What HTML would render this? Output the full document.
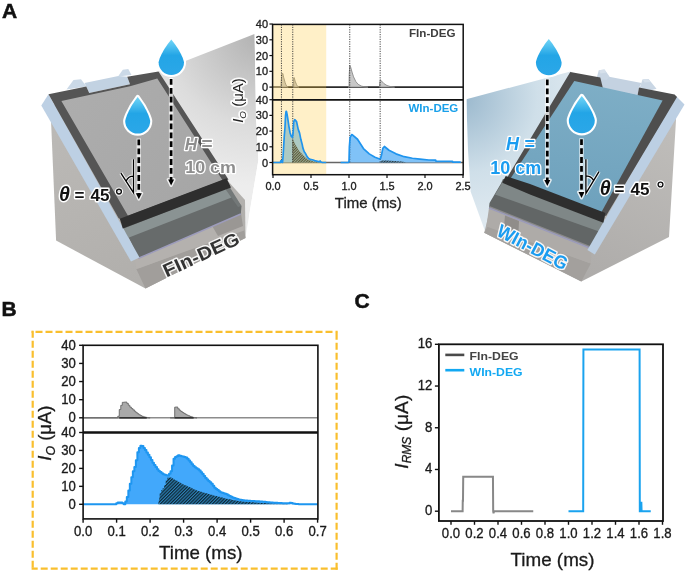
<!DOCTYPE html>
<html><head><meta charset="utf-8"><title>Figure</title>
<style>html,body{margin:0;padding:0;background:#fff;}body{width:685px;height:574px;overflow:hidden;font-family:"Liberation Sans", sans-serif;}svg{display:block;filter:blur(0.3px);}</style>
</head><body>
<svg width="685" height="574" viewBox="0 0 685 574" font-family="'Liberation Sans', sans-serif">

<defs>
<radialGradient id="coneL" gradientUnits="userSpaceOnUse" cx="258" cy="36" r="150">
 <stop offset="0" stop-color="#b2b2b2"/><stop offset="0.6" stop-color="#dcdcdc"/><stop offset="1" stop-color="#ededed"/></radialGradient>
<radialGradient id="coneR" gradientUnits="userSpaceOnUse" cx="462" cy="98" r="125">
 <stop offset="0" stop-color="#9ab8cd"/><stop offset="0.6" stop-color="#cfdfe9"/><stop offset="1" stop-color="#dfe9f0"/></radialGradient>
<linearGradient id="standL" gradientUnits="userSpaceOnUse" x1="50" y1="110" x2="140" y2="280">
 <stop offset="0" stop-color="#bcbab7"/><stop offset="1" stop-color="#b1afac"/></linearGradient>
<linearGradient id="standR" gradientUnits="userSpaceOnUse" x1="675" y1="120" x2="600" y2="280">
 <stop offset="0" stop-color="#c0bebb"/><stop offset="1" stop-color="#aeacaa"/></linearGradient>
<linearGradient id="glassL" gradientUnits="userSpaceOnUse" x1="60" y1="100" x2="200" y2="200">
 <stop offset="0" stop-color="#adadad"/><stop offset="1" stop-color="#a6a6a6"/></linearGradient>
<linearGradient id="glassR" gradientUnits="userSpaceOnUse" x1="575" y1="80" x2="560" y2="200">
 <stop offset="0" stop-color="#7eaec6"/><stop offset="1" stop-color="#6fa2bd"/></linearGradient>
<linearGradient id="dropG" x1="0" y1="0" x2="0" y2="1">
 <stop offset="0" stop-color="#72d6f7"/><stop offset="0.45" stop-color="#23a5e6"/><stop offset="1" stop-color="#2ba7e8"/></linearGradient>
<pattern id="hatchB" patternUnits="userSpaceOnUse" width="2.3" height="2.3" patternTransform="rotate(45)">
 <rect width="2.3" height="2.3" fill="#2b7fb3"/><rect width="1.15" height="2.3" fill="#0f2533"/></pattern>
<pattern id="hatchA" patternUnits="userSpaceOnUse" width="1.9" height="1.9" patternTransform="rotate(45)">
 <rect width="1.9" height="1.9" fill="#3a4a40" fill-opacity="0.35"/><rect width="0.95" height="1.9" fill="#18242a" fill-opacity="0.9"/></pattern>
</defs>

<rect width="685" height="574" fill="#fff"/>
<polygon points="158.5,71.4 254.5,34.0 256.0,110.0 258.4,160.0 245.8,235.2 225.0,236.0 200.0,140.0" fill="url(#coneL)" />
<polygon points="50.5,108.0 56.1,240.6 145.5,288.5 245.5,238.0 245.0,200.0 200.0,150.0 60.0,100.0" fill="url(#standL)" />
<polygon points="136.3,269.0 145.5,288.5 245.5,238.0 244.0,229.0 140.0,268.0" fill="#a19e9b" />
<polygon points="134.5,257.5 136.3,269.0 244.2,230.5 240.8,213.0" fill="#b4b1ae" />
<polygon points="211.0,224.0 240.8,212.0 243.0,226.0 218.0,236.0" fill="#9a9794" />
<polygon points="122.8,227.2 226.3,186.4 241.5,206.0 240.8,214.0 138.5,258.3 128.0,236.0" fill="#676b6b" />
<polygon points="123.8,228.5 227.0,188.0 231.5,197.5 126.5,238.5" fill="#8a9393" />
<polygon points="224.5,178.2 228.7,185.5 241.5,206.0 238.0,207.0 226.0,190.0" fill="#737878" />
<line x1="138.5" y1="258.3" x2="240.8" y2="214" stroke="#9d9cbc" stroke-width="1.5"/>
<polygon points="41.3,105.6 48.5,94.2 139.5,257.5 131.0,261.5" fill="#bdd0e4" />
<polygon points="84.5,83.1 118.4,76.1 127.2,76.7 130.0,84.3 89.2,93.0 86.3,86.6" fill="#c2d2e2" />
<polygon points="66.5,89.5 73.5,80.0 81.0,79.2 86.5,86.6" fill="#cbd9e7" />
<polygon points="118.0,76.5 122.8,69.8 128.3,69.1 131.5,75.0" fill="#cbd9e7" />
<polygon points="48.5,94.2 86.3,86.4 89.2,93.0 130.0,84.3 127.2,76.7 158.5,71.4 228.5,179.5 121.5,220.0 118.5,218.0" fill="#555555" />
<polygon points="61.4,101.0 89.2,95.0 130.0,86.2 157.3,78.4 222.5,180.3 128.0,215.8" fill="url(#glassL)" />
<polygon points="119.8,218.8 226.5,178.2 231.0,187.5 122.8,228.5" fill="#2e2e2e" />
<polygon points="466.3,99.2 570.5,71.5 600.0,90.0 520.0,230.0 484.6,230.1 470.7,191.8 468.0,150.0" fill="url(#coneR)" />
<polygon points="674.6,110.0 676.0,120.0 669.0,237.0 581.3,281.5 484.2,232.7 490.0,210.0 600.0,150.0 660.0,110.0" fill="url(#standR)" />
<polygon points="484.2,232.7 581.3,281.5 590.8,263.5 488.0,226.0" fill="#a3a09d" />
<polygon points="489.0,208.0 591.5,248.8 590.8,263.5 486.3,226.4" fill="#aeaba8" />
<polygon points="503.0,179.0 605.0,215.0 603.3,223.3 600.0,235.0 591.5,248.8 489.0,208.0 489.5,203.0 501.0,183.6" fill="#626666" />
<polygon points="502.0,182.0 604.0,220.0 603.3,224.5 600.5,232.0 495.0,194.5 501.0,184.8" fill="#7f8787" />
<polygon points="489.5,206.0 591.5,246.5 591.5,248.8 489.0,208.0" fill="#8a8a8a" />
<line x1="489" y1="208" x2="591.5" y2="248.8" stroke="#9c9cba" stroke-width="1.5"/>
<polygon points="505.0,215.5 519.0,221.0 518.5,232.0 504.0,226.5" fill="#908d8a" />
<polygon points="676.0,96.0 684.5,104.5 594.8,254.6 587.4,250.1" fill="#bccfe3" />
<polygon points="599.5,78.0 606.5,76.3 641.5,83.0 639.0,88.0 637.5,95.5 603.0,89.0" fill="#c4d2e1" />
<polygon points="596.5,78.5 598.8,70.2 604.5,69.6 609.5,76.5 606.5,80.0" fill="#c9d6e4" />
<polygon points="598.8,70.2 604.5,69.6 606.5,72.5 600.5,73.5" fill="#d6e0eb" />
<polygon points="639.5,88.5 642.5,79.5 648.5,79.0 656.5,88.8 652.0,90.0" fill="#c9d6e4" />
<polygon points="642.5,79.5 648.5,79.0 650.5,82.0 644.5,82.5" fill="#d6e0eb" />
<polygon points="570.3,72.0 600.3,77.5 603.0,88.5 637.5,95.5 639.0,87.5 674.6,94.4 677.0,97.0 606.0,216.0 503.0,180.0 507.5,177.0" fill="#4e4e4e" />
<polygon points="574.3,81.0 662.6,100.4 601.5,212.0 510.5,178.5" fill="url(#glassR)" />
<polygon points="505.7,176.0 530.0,184.1 605.4,213.0 603.3,222.8 530.0,194.5 502.3,182.7" fill="#2e2e2e" />
<polygon points="254.5,16 466.5,16 466.5,216 249,216 258.4,160 256,120" fill="#fff"/>
<line x1="272.6" y1="87.10" x2="463.2" y2="87.10" stroke="#2a2a2a" stroke-width="1.6"/>
<path d="M273.00,87.10 L280.98,87.10 L281.21,81.74 L281.59,77.64 L281.97,73.70 L282.80,73.38 L283.26,75.27 L283.64,77.32 L284.40,80.00 L285.16,82.68 L285.92,84.73 L286.68,86.15 L287.44,86.78 L288.20,87.10 L288.20,87.10 L273.00,87.10 Z" fill="#c8c8c8" stroke="#8a8a8a" stroke-width="0.9"/>
<path d="M292.76,87.10 L293.67,87.10 L293.75,77.95 L294.28,77.64 L294.81,80.00 L295.42,81.90 L296.56,84.58 L297.32,85.84 L298.08,86.78 L298.84,87.10 L298.84,87.10 L292.76,87.10 Z" fill="#c8c8c8" stroke="#8a8a8a" stroke-width="0.9"/>
<path d="M348.24,87.10 L349.00,87.10 L349.23,74.48 L349.76,65.18 L350.52,66.60 L352.04,72.12 L353.56,76.85 L355.84,81.58 L358.12,84.26 L361.16,86.00 L364.20,86.78 L368.00,87.10 L368.00,87.10 L348.24,87.10 Z" fill="#c8c8c8" stroke="#8a8a8a" stroke-width="0.9"/>
<path d="M379.40,87.10 L379.78,82.37 L380.31,79.85 L381.68,81.11 L383.96,83.63 L387.00,85.52 L390.04,86.47 L393.08,86.94 L394.60,87.10 L394.60,87.10 L379.40,87.10 Z" fill="#c8c8c8" stroke="#8a8a8a" stroke-width="0.9"/>
<line x1="272.6" y1="162.50" x2="463.2" y2="162.50" stroke="#666" stroke-width="1.3"/>
<path d="M273.00,162.50 L280.60,162.50 L280.75,160.93 L281.97,160.93 L282.20,162.50 L282.54,162.50 L283.11,155.91 L283.72,145.54 L284.32,135.18 L284.93,128.27 L285.54,115.71 L286.07,111.32 L286.45,111.32 L287.14,114.61 L288.05,120.27 L288.96,126.55 L290.14,132.98 L291.35,136.44 L292.38,137.38 L293.06,133.30 L293.75,121.68 L294.74,119.64 L296.56,121.68 L298.23,129.37 L299.60,133.14 L300.89,139.58 L302.26,144.60 L302.87,147.90 L304.24,151.82 L305.53,153.55 L307.20,156.85 L308.57,158.42 L310.24,159.36 L313.28,159.99 L315.56,160.93 L318.60,161.56 L319.74,161.56 L320.12,160.93 L320.88,162.03 L322.40,162.50 L326.20,162.50 L326.20,162.50 L273.00,162.50 Z" fill="#8fcbf8"/>
<path d="M340.64,162.50 L348.24,162.50 L349.00,161.72 L349.38,146.80 L350.14,137.38 L351.66,134.55 L352.42,134.87 L357.51,139.26 L363.44,148.53 L369.22,153.87 L374.99,157.32 L379.70,159.05 L380.54,158.57 L381.53,154.96 L382.82,148.37 L384.42,146.49 L388.98,150.25 L395.97,153.87 L404.18,156.69 L412.38,158.26 L419.98,159.05 L428.80,159.99 L435.64,160.15 L436.02,161.24 L452.36,161.24 L452.74,162.03 L460.72,162.03 L460.72,162.50 L340.64,162.50 Z" fill="#80c2f7"/>
<path d="M292.38,162.50 L292.38,138.16 L295.57,144.76 L298.92,150.57 L302.26,154.34 L305.53,157.63 L308.87,159.99 L313.28,161.24 L318.60,162.19 L320.12,162.50 L320.12,162.50 L292.38,162.50 Z" fill="url(#hatchA)"/>
<path d="M380.92,162.50 L381.30,160.46 L387.00,160.62 L394.60,161.09 L402.20,161.56 L406.00,162.50 L406.00,162.50 L380.92,162.50 Z" fill="url(#hatchA)"/>
<rect x="272.6" y="24.4" width="53.60" height="150.29999999999998" fill="rgb(255,200,50)" fill-opacity="0.27"/>
<line x1="281.44" y1="24.4" x2="281.44" y2="162.50" stroke="#333" stroke-width="0.9" stroke-dasharray="1.2,1.2"/>
<line x1="292.76" y1="24.4" x2="292.76" y2="162.50" stroke="#333" stroke-width="0.9" stroke-dasharray="1.2,1.2"/>
<line x1="349.76" y1="24.4" x2="349.76" y2="162.50" stroke="#333" stroke-width="0.9" stroke-dasharray="1.2,1.2"/>
<line x1="380.16" y1="24.4" x2="380.16" y2="162.50" stroke="#333" stroke-width="0.9" stroke-dasharray="1.2,1.2"/>
<path d="M273.00,162.50 L280.60,162.50 L280.75,160.93 L281.97,160.93 L282.20,162.50 L282.54,162.50 L283.11,155.91 L283.72,145.54 L284.32,135.18 L284.93,128.27 L285.54,115.71 L286.07,111.32 L286.45,111.32 L287.14,114.61 L288.05,120.27 L288.96,126.55 L290.14,132.98 L291.35,136.44 L292.38,137.38 L293.06,133.30 L293.75,121.68 L294.74,119.64 L296.56,121.68 L298.23,129.37 L299.60,133.14 L300.89,139.58 L302.26,144.60 L302.87,147.90 L304.24,151.82 L305.53,153.55 L307.20,156.85 L308.57,158.42 L310.24,159.36 L313.28,159.99 L315.56,160.93 L318.60,161.56 L319.74,161.56 L320.12,160.93 L320.88,162.03 L322.40,162.50 L326.20,162.50" fill="none" stroke="#1f94ee" stroke-width="1.7" stroke-linejoin="round"/>
<path d="M340.64,162.50 L348.24,162.50 L349.00,161.72 L349.38,146.80 L350.14,137.38 L351.66,134.55 L352.42,134.87 L357.51,139.26 L363.44,148.53 L369.22,153.87 L374.99,157.32 L379.70,159.05 L380.54,158.57 L381.53,154.96 L382.82,148.37 L384.42,146.49 L388.98,150.25 L395.97,153.87 L404.18,156.69 L412.38,158.26 L419.98,159.05 L428.80,159.99 L435.64,160.15 L436.02,161.24 L452.36,161.24 L452.74,162.03 L460.72,162.03" fill="none" stroke="#1f94ee" stroke-width="1.7" stroke-linejoin="round"/>
<line x1="272.6" y1="99.8" x2="463.2" y2="99.8" stroke="#111" stroke-width="1.8"/>
<rect x="272.6" y="24.4" width="190.60" height="150.30" fill="none" stroke="#111" stroke-width="1.5"/>
<line x1="269.40" y1="24.02" x2="272.6" y2="24.02" stroke="#111" stroke-width="1.2"/>
<text x="268.00" y="28.02" font-size="11.8" text-anchor="end" font-weight="normal" font-style="normal" fill="#222" stroke="#222" stroke-width="0.35" textLength="12.20" lengthAdjust="spacingAndGlyphs">40</text>
<line x1="269.40" y1="99.70" x2="272.6" y2="99.70" stroke="#111" stroke-width="1.2"/>
<text x="268.00" y="103.70" font-size="11.8" text-anchor="end" font-weight="normal" font-style="normal" fill="#222" stroke="#222" stroke-width="0.35" textLength="12.20" lengthAdjust="spacingAndGlyphs">40</text>
<line x1="269.40" y1="39.79" x2="272.6" y2="39.79" stroke="#111" stroke-width="1.2"/>
<text x="268.00" y="43.79" font-size="11.8" text-anchor="end" font-weight="normal" font-style="normal" fill="#222" stroke="#222" stroke-width="0.35" textLength="12.20" lengthAdjust="spacingAndGlyphs">30</text>
<line x1="269.40" y1="115.40" x2="272.6" y2="115.40" stroke="#111" stroke-width="1.2"/>
<text x="268.00" y="119.40" font-size="11.8" text-anchor="end" font-weight="normal" font-style="normal" fill="#222" stroke="#222" stroke-width="0.35" textLength="12.20" lengthAdjust="spacingAndGlyphs">30</text>
<line x1="269.40" y1="55.56" x2="272.6" y2="55.56" stroke="#111" stroke-width="1.2"/>
<text x="268.00" y="59.56" font-size="11.8" text-anchor="end" font-weight="normal" font-style="normal" fill="#222" stroke="#222" stroke-width="0.35" textLength="12.20" lengthAdjust="spacingAndGlyphs">20</text>
<line x1="269.40" y1="131.10" x2="272.6" y2="131.10" stroke="#111" stroke-width="1.2"/>
<text x="268.00" y="135.10" font-size="11.8" text-anchor="end" font-weight="normal" font-style="normal" fill="#222" stroke="#222" stroke-width="0.35" textLength="12.20" lengthAdjust="spacingAndGlyphs">20</text>
<line x1="269.40" y1="71.33" x2="272.6" y2="71.33" stroke="#111" stroke-width="1.2"/>
<text x="268.00" y="75.33" font-size="11.8" text-anchor="end" font-weight="normal" font-style="normal" fill="#222" stroke="#222" stroke-width="0.35" textLength="12.20" lengthAdjust="spacingAndGlyphs">10</text>
<line x1="269.40" y1="146.80" x2="272.6" y2="146.80" stroke="#111" stroke-width="1.2"/>
<text x="268.00" y="150.80" font-size="11.8" text-anchor="end" font-weight="normal" font-style="normal" fill="#222" stroke="#222" stroke-width="0.35" textLength="12.20" lengthAdjust="spacingAndGlyphs">10</text>
<line x1="269.40" y1="87.10" x2="272.6" y2="87.10" stroke="#111" stroke-width="1.2"/>
<text x="268.00" y="91.10" font-size="11.8" text-anchor="end" font-weight="normal" font-style="normal" fill="#222" stroke="#222" stroke-width="0.35" textLength="6.10" lengthAdjust="spacingAndGlyphs">0</text>
<line x1="269.40" y1="162.50" x2="272.6" y2="162.50" stroke="#111" stroke-width="1.2"/>
<text x="268.00" y="166.50" font-size="11.8" text-anchor="end" font-weight="normal" font-style="normal" fill="#222" stroke="#222" stroke-width="0.35" textLength="6.10" lengthAdjust="spacingAndGlyphs">0</text>
<line x1="273.00" y1="174.7" x2="273.00" y2="177.89999999999998" stroke="#111" stroke-width="1.2"/>
<text x="273.00" y="190.30" font-size="11.8" text-anchor="middle" font-weight="normal" font-style="normal" fill="#222" stroke="#222" stroke-width="0.35" textLength="15.25" lengthAdjust="spacingAndGlyphs">0.0</text>
<line x1="311.00" y1="174.7" x2="311.00" y2="177.89999999999998" stroke="#111" stroke-width="1.2"/>
<text x="311.00" y="190.30" font-size="11.8" text-anchor="middle" font-weight="normal" font-style="normal" fill="#222" stroke="#222" stroke-width="0.35" textLength="15.25" lengthAdjust="spacingAndGlyphs">0.5</text>
<line x1="349.00" y1="174.7" x2="349.00" y2="177.89999999999998" stroke="#111" stroke-width="1.2"/>
<text x="349.00" y="190.30" font-size="11.8" text-anchor="middle" font-weight="normal" font-style="normal" fill="#222" stroke="#222" stroke-width="0.35" textLength="15.25" lengthAdjust="spacingAndGlyphs">1.0</text>
<line x1="387.00" y1="174.7" x2="387.00" y2="177.89999999999998" stroke="#111" stroke-width="1.2"/>
<text x="387.00" y="190.30" font-size="11.8" text-anchor="middle" font-weight="normal" font-style="normal" fill="#222" stroke="#222" stroke-width="0.35" textLength="15.25" lengthAdjust="spacingAndGlyphs">1.5</text>
<line x1="425.00" y1="174.7" x2="425.00" y2="177.89999999999998" stroke="#111" stroke-width="1.2"/>
<text x="425.00" y="190.30" font-size="11.8" text-anchor="middle" font-weight="normal" font-style="normal" fill="#222" stroke="#222" stroke-width="0.35" textLength="15.25" lengthAdjust="spacingAndGlyphs">2.0</text>
<line x1="463.00" y1="174.7" x2="463.00" y2="177.89999999999998" stroke="#111" stroke-width="1.2"/>
<text x="463.00" y="190.30" font-size="11.8" text-anchor="middle" font-weight="normal" font-style="normal" fill="#222" stroke="#222" stroke-width="0.35" textLength="15.25" lengthAdjust="spacingAndGlyphs">2.5</text>
<text x="368.30" y="207.90" font-size="15.2" text-anchor="middle" font-weight="normal" font-style="normal" fill="#222" stroke="#222" stroke-width="0.3" textLength="67" lengthAdjust="spacingAndGlyphs">Time (ms)</text>
<text x="455.50" y="37.20" font-size="11.6" text-anchor="end" font-weight="bold" font-style="normal" fill="#3d3d3d" stroke="#fff" stroke-width="2.5" stroke-linejoin="round" paint-order="stroke"  textLength="46.5" lengthAdjust="spacingAndGlyphs">FIn-DEG</text>
<text x="458.30" y="112.20" font-size="11.6" text-anchor="end" font-weight="bold" font-style="normal" fill="#19a0ea" stroke="#fff" stroke-width="2.5" stroke-linejoin="round" paint-order="stroke"  textLength="49.8" lengthAdjust="spacingAndGlyphs">WIn-DEG</text>
<g transform="translate(242.5,100.5) rotate(-90)"><text x="0" y="0" font-size="15" text-anchor="middle" fill="#222" stroke="#fff" stroke-width="3.5" stroke-opacity="0.9" stroke-linejoin="round" paint-order="stroke"><tspan font-style="italic">I</tspan><tspan font-size="9.8" dy="3" font-style="italic">O</tspan><tspan dy="-3"> (μA)</tspan></text></g>
<path d="M171.30,39.40 C182.17,52.58 184.00,61.72 184.00,62.20 A12.70,12.70 0 0 1 158.60,62.20 C158.60,61.72 160.43,52.58 171.30,39.40 Z" fill="url(#dropG)" stroke="#fff" stroke-width="4.2" stroke-linejoin="round" paint-order="stroke"/>
<line x1="171.1" y1="78" x2="171.1" y2="180.5" stroke="#fff" stroke-opacity="0.75" stroke-width="4.4"/>
<polygon points="168.1,179.5 174.1,179.5 171.1,185.5" fill="#fff" stroke="#fff" stroke-width="3" stroke-opacity="0.8" stroke-linejoin="round"/>
<line x1="171.1" y1="79" x2="171.1" y2="180.5" stroke="#000" stroke-width="2.7" stroke-dasharray="5.8,3.1"/>
<polygon points="168.1,179.5 174.1,179.5 171.1,185.5" fill="#000"/>
<path d="M137.70,97.00 C148.40,110.93 150.20,120.59 150.20,121.10 A12.50,12.50 0 0 1 125.20,121.10 C125.20,120.59 127.00,110.93 137.70,97.00 Z" fill="url(#dropG)" stroke="#fff" stroke-width="4.2" stroke-linejoin="round" paint-order="stroke"/>
<line x1="138.8" y1="138.5" x2="138.8" y2="194.2" stroke="#fff" stroke-opacity="0.75" stroke-width="4.4"/>
<polygon points="135.8,193.2 141.8,193.2 138.8,199.2" fill="#fff" stroke="#fff" stroke-width="3" stroke-opacity="0.8" stroke-linejoin="round"/>
<line x1="138.8" y1="139.5" x2="138.8" y2="194.2" stroke="#000" stroke-width="2.7" stroke-dasharray="5.8,3.1"/>
<polygon points="135.8,193.2 141.8,193.2 138.8,199.2" fill="#000"/>
<path d="M133.5,159.2 L133.5,192.7 L120.9,173.1 M126.3,180.8 Q128.5,176 133.5,176.1" fill="none" stroke="#fff" stroke-width="3.4" stroke-opacity="0.85" stroke-linejoin="round"/>
<path d="M133.5,159.2 L133.5,192.7 L120.9,173.1 M126.3,180.8 Q128.5,176 133.5,176.1" fill="none" stroke="#000" stroke-width="1.3"/>
<text x="184.80" y="149.90" font-size="17.3" text-anchor="start" font-weight="bold" font-style="italic" fill="#8e8e8e" stroke="#fff" stroke-width="2.6" stroke-linejoin="round" paint-order="stroke" >H</text>
<text x="201.50" y="149.90" font-size="19" text-anchor="start" font-weight="bold" font-style="normal" fill="#8e8e8e" stroke="#fff" stroke-width="2.6" stroke-linejoin="round" paint-order="stroke" >=</text>
<text x="185.20" y="173.40" font-size="17.2" text-anchor="start" font-weight="bold" font-style="normal" fill="#8e8e8e" stroke="#fff" stroke-width="2.6" stroke-linejoin="round" paint-order="stroke"  textLength="50.8" lengthAdjust="spacingAndGlyphs">10 cm</text>
<text x="59.0" y="200.9" font-size="19.5" font-weight="bold" font-style="italic" fill="#111" stroke="#fff" stroke-width="2.8" stroke-linejoin="round" paint-order="stroke">θ</text>
<text x="74.6" y="200.6" font-size="17" font-weight="bold" fill="#111" stroke="#fff" stroke-width="2.8" stroke-linejoin="round" paint-order="stroke">=</text>
<text x="90.6" y="200.6" font-size="17" font-weight="bold" fill="#111" stroke="#fff" stroke-width="2.8" stroke-linejoin="round" paint-order="stroke">45</text>
<circle cx="119.0" cy="191.6" r="2.4" fill="none" stroke="#fff" stroke-width="3.6"/>
<circle cx="119.0" cy="191.6" r="2.4" fill="none" stroke="#111" stroke-width="1.4"/>
<g transform="translate(166.5,277.5) rotate(-24.7)"><text x="0" y="0" font-size="18.5" font-weight="bold" fill="#333" stroke="#fff" stroke-width="2.8" stroke-opacity="0.9" stroke-linejoin="round" paint-order="stroke" textLength="82" lengthAdjust="spacingAndGlyphs">FIn-DEG</text></g>
<path d="M548.80,39.10 C559.80,52.60 561.65,61.96 561.65,62.45 A12.85,12.85 0 0 1 535.95,62.45 C535.95,61.96 537.80,52.60 548.80,39.10 Z" fill="url(#dropG)" stroke="#fff" stroke-width="4.2" stroke-linejoin="round" paint-order="stroke"/>
<line x1="547.3" y1="78.5" x2="547.3" y2="181" stroke="#fff" stroke-opacity="0.75" stroke-width="4.4"/>
<polygon points="544.3,180 550.3,180 547.3,186" fill="#fff" stroke="#fff" stroke-width="3" stroke-opacity="0.8" stroke-linejoin="round"/>
<line x1="547.3" y1="79.5" x2="547.3" y2="181" stroke="#000" stroke-width="2.7" stroke-dasharray="5.8,3.1"/>
<polygon points="544.3,180 550.3,180 547.3,186" fill="#000"/>
<path d="M581.80,95.90 C592.93,110.00 594.80,119.79 594.80,120.30 A13.00,13.00 0 0 1 568.80,120.30 C568.80,119.79 570.67,110.00 581.80,95.90 Z" fill="url(#dropG)" stroke="#fff" stroke-width="4.2" stroke-linejoin="round" paint-order="stroke"/>
<line x1="581.5" y1="138.3" x2="581.5" y2="193" stroke="#fff" stroke-opacity="0.75" stroke-width="4.4"/>
<polygon points="578.5,192 584.5,192 581.5,198" fill="#fff" stroke="#fff" stroke-width="3" stroke-opacity="0.8" stroke-linejoin="round"/>
<line x1="581.5" y1="139.3" x2="581.5" y2="193" stroke="#000" stroke-width="2.7" stroke-dasharray="5.8,3.1"/>
<polygon points="578.5,192 584.5,192 581.5,198" fill="#000"/>
<path d="M585.9,159.2 L585.9,193.4 L599,171.7 M585.9,176.3 Q590.5,175.5 593.3,180" fill="none" stroke="#fff" stroke-width="3.4" stroke-opacity="0.85" stroke-linejoin="round"/>
<path d="M585.9,159.2 L585.9,193.4 L599,171.7 M585.9,176.3 Q590.5,175.5 593.3,180" fill="none" stroke="#000" stroke-width="1.3"/>
<text x="506.00" y="149.80" font-size="18" text-anchor="start" font-weight="bold" font-style="italic" fill="#1a9cf0" stroke="#fff" stroke-width="2.6" stroke-linejoin="round" paint-order="stroke" >H</text>
<text x="524.60" y="149.80" font-size="18" text-anchor="start" font-weight="bold" font-style="normal" fill="#1a9cf0" stroke="#fff" stroke-width="2.6" stroke-linejoin="round" paint-order="stroke" >=</text>
<text x="490.30" y="173.70" font-size="18" text-anchor="start" font-weight="bold" font-style="normal" fill="#1a9cf0" stroke="#fff" stroke-width="2.6" stroke-linejoin="round" paint-order="stroke"  textLength="51" lengthAdjust="spacingAndGlyphs">10 cm</text>
<text x="599.8" y="195.0" font-size="19.5" font-weight="bold" font-style="italic" fill="#111" stroke="#fff" stroke-width="2.8" stroke-linejoin="round" paint-order="stroke">θ</text>
<text x="614.6" y="194.7" font-size="17" font-weight="bold" fill="#111" stroke="#fff" stroke-width="2.8" stroke-linejoin="round" paint-order="stroke">=</text>
<text x="630.5" y="194.7" font-size="17" font-weight="bold" fill="#111" stroke="#fff" stroke-width="2.8" stroke-linejoin="round" paint-order="stroke">45</text>
<circle cx="660.5" cy="184.5" r="2.4" fill="none" stroke="#fff" stroke-width="3.6"/>
<circle cx="660.5" cy="184.5" r="2.4" fill="none" stroke="#111" stroke-width="1.4"/>
<g transform="translate(495.5,235) rotate(27.6)"><text x="0" y="0" font-size="18.5" font-weight="bold" fill="#1a9cf0" stroke="#fff" stroke-width="2.8" stroke-opacity="0.9" stroke-linejoin="round" paint-order="stroke" textLength="77" lengthAdjust="spacingAndGlyphs">WIn-DEG</text></g>
<text x="2.00" y="17.60" font-size="21" text-anchor="start" font-weight="bold" font-style="normal" fill="#111" stroke="#111" stroke-width="0.5">A</text>
<text x="1.50" y="315.50" font-size="21" text-anchor="start" font-weight="bold" font-style="normal" fill="#111" stroke="#111" stroke-width="0.5">B</text>
<text x="354.60" y="308.20" font-size="21" text-anchor="start" font-weight="bold" font-style="normal" fill="#111" stroke="#111" stroke-width="0.5">C</text>
<line x1="31.6" y1="331.8" x2="337.7" y2="331.8" stroke="#f9bf2e" stroke-width="2.2" stroke-dasharray="7,3" stroke-dashoffset="6.1"/>
<line x1="336.6" y1="569.7" x2="336.6" y2="330.7" stroke="#f9bf2e" stroke-width="2.2" stroke-dasharray="7,3"/>
<line x1="337.7" y1="568.6" x2="31.6" y2="568.6" stroke="#f9bf2e" stroke-width="2.2" stroke-dasharray="7,3"/>
<line x1="32.7" y1="330.7" x2="32.7" y2="569.7" stroke="#f9bf2e" stroke-width="2.2" stroke-dasharray="7,3"/>
<line x1="83.1" y1="417.80" x2="317.9" y2="417.80" stroke="#8c8c8c" stroke-width="1.4"/>
<path d="M83.10,417.80 L84.61,417.80 L84.61,417.80 L86.11,417.80 L86.11,417.80 L87.62,417.80 L87.62,417.80 L89.13,417.80 L89.13,417.80 L90.64,417.80 L90.64,417.80 L92.14,417.80 L92.14,417.80 L93.65,417.80 L93.65,417.80 L95.16,417.80 L95.16,417.80 L96.67,417.80 L96.67,417.80 L98.17,417.80 L98.17,417.80 L99.68,417.80 L99.68,417.80 L101.19,417.80 L101.19,417.80 L102.70,417.80 L102.70,417.80 L104.20,417.80 L104.20,417.80 L105.71,417.80 L105.71,417.80 L107.22,417.80 L107.22,417.80 L108.73,417.80 L108.73,417.80 L110.23,417.80 L110.23,417.80 L111.74,417.80 L111.74,417.80 L113.25,417.80 L113.25,417.80 L114.76,417.80 L114.76,417.80 L116.27,417.80 L116.27,417.80 L117.77,417.80 L117.77,416.26 L119.28,416.26 L119.28,409.52 L120.79,409.52 L120.79,405.34 L122.30,405.34 L122.30,402.35 L123.80,402.35 L123.80,402.20 L125.31,402.20 L125.31,402.06 L126.82,402.06 L126.82,403.39 L128.33,403.39 L128.33,405.27 L129.83,405.27 L129.83,407.10 L131.34,407.10 L131.34,408.49 L132.85,408.49 L132.85,409.87 L134.36,409.87 L134.36,411.26 L135.86,411.26 L135.86,412.65 L137.37,412.65 L137.37,413.73 L138.88,413.73 L138.88,414.79 L140.39,414.79 L140.39,415.61 L141.89,415.61 L141.89,416.35 L143.40,416.35 L143.40,416.88 L144.91,416.88 L144.91,417.20 L146.42,417.20 L146.42,417.48 L147.92,417.48 L147.92,417.65 L149.43,417.65 L149.43,417.80 L150.10,417.80 L150.10,417.80 L83.10,417.80 Z" fill="#a9a9a9" stroke="#6e6e6e" stroke-width="1"/>
<line x1="119.28" y1="417.80" x2="146.75" y2="417.80" stroke="#333" stroke-width="1.6"/>
<path d="M170.20,417.80 L171.71,417.80 L171.71,417.80 L173.22,417.80 L173.22,417.80 L174.72,417.80 L174.72,407.15 L176.23,407.15 L176.23,407.02 L177.74,407.02 L177.74,408.77 L179.25,408.77 L179.25,410.26 L180.75,410.26 L180.75,411.48 L182.26,411.48 L182.26,412.49 L183.77,412.49 L183.77,413.41 L185.28,413.41 L185.28,414.34 L186.78,414.34 L186.78,415.15 L188.29,415.15 L188.29,415.81 L189.80,415.81 L189.80,416.43 L191.31,416.43 L191.31,416.92 L192.81,416.92 L192.81,417.41 L194.32,417.41 L194.32,417.59 L195.83,417.59 L195.83,417.75 L197.00,417.80 L197.00,417.80 L170.20,417.80 Z" fill="#a9a9a9" stroke="#6e6e6e" stroke-width="1"/>
<line x1="174.56" y1="417.80" x2="193.65" y2="417.80" stroke="#333" stroke-width="1.6"/>
<path d="M83.10,504.30 L84.61,504.30 L84.61,504.30 L86.11,504.30 L86.11,504.30 L87.62,504.30 L87.62,504.30 L89.13,504.30 L89.13,504.30 L90.64,504.30 L90.64,504.30 L92.14,504.30 L92.14,504.30 L93.65,504.30 L93.65,504.30 L95.16,504.30 L95.16,504.30 L96.67,504.30 L96.67,504.30 L98.17,504.30 L98.17,504.30 L99.68,504.30 L99.68,504.30 L101.19,504.30 L101.19,504.30 L102.70,504.30 L102.70,504.30 L104.20,504.30 L104.20,504.30 L105.71,504.30 L105.71,504.30 L107.22,504.30 L107.22,504.30 L108.73,504.30 L108.73,504.30 L110.23,504.30 L110.23,504.30 L111.74,504.30 L111.74,504.30 L113.25,504.30 L113.25,504.30 L114.76,504.30 L114.76,504.30 L116.27,504.30 L116.27,503.18 L117.77,503.18 L117.77,502.50 L119.28,502.50 L119.28,502.50 L120.79,502.50 L120.79,502.50 L122.30,502.50 L122.30,503.25 L123.80,503.25 L123.80,504.30 L125.31,504.30 L125.31,501.54 L126.82,501.54 L126.82,497.01 L128.33,497.01 L128.33,490.47 L129.83,490.47 L129.83,483.80 L131.34,483.80 L131.34,477.14 L132.85,477.14 L132.85,471.34 L134.36,471.34 L134.36,466.90 L135.86,466.90 L135.86,460.23 L137.37,460.23 L137.37,452.16 L138.88,452.16 L138.88,448.12 L140.39,448.12 L140.39,445.78 L141.89,445.78 L141.89,446.10 L143.40,446.10 L143.40,447.98 L144.91,447.98 L144.91,449.96 L146.42,449.96 L146.42,452.38 L147.92,452.38 L147.92,454.80 L149.43,454.80 L149.43,457.36 L150.94,457.36 L150.94,460.05 L152.45,460.05 L152.45,462.75 L153.95,462.75 L153.95,464.98 L155.46,464.98 L155.46,467.11 L156.97,467.11 L156.97,469.25 L158.48,469.25 L158.48,470.99 L159.98,470.99 L159.98,472.11 L161.49,472.11 L161.49,473.22 L163.00,473.22 L163.00,474.34 L164.51,474.34 L164.51,474.81 L166.01,474.81 L166.01,475.16 L167.52,475.16 L167.52,475.52 L169.03,475.52 L169.03,473.64 L170.54,473.64 L170.54,471.30 L172.04,471.30 L172.04,465.38 L173.55,465.38 L173.55,458.74 L175.06,458.74 L175.06,456.96 L176.57,456.96 L176.57,456.15 L178.07,456.15 L178.07,455.34 L179.58,455.34 L179.58,455.71 L181.09,455.71 L181.09,456.15 L182.60,456.15 L182.60,456.58 L184.10,456.58 L184.10,457.02 L185.61,457.02 L185.61,457.46 L187.12,457.46 L187.12,458.73 L188.63,458.73 L188.63,460.53 L190.13,460.53 L190.13,462.33 L191.64,462.33 L191.64,464.13 L193.15,464.13 L193.15,465.93 L194.66,465.93 L194.66,467.20 L196.16,467.20 L196.16,468.28 L197.67,468.28 L197.67,469.36 L199.18,469.36 L199.18,470.43 L200.69,470.43 L200.69,472.14 L202.19,472.14 L202.19,474.09 L203.70,474.09 L203.70,476.04 L205.21,476.04 L205.21,477.98 L206.72,477.98 L206.72,479.45 L208.22,479.45 L208.22,480.89 L209.73,480.89 L209.73,482.32 L211.24,482.32 L211.24,483.76 L212.75,483.76 L212.75,485.84 L214.25,485.84 L214.25,487.79 L215.76,487.79 L215.76,488.92 L217.27,488.92 L217.27,490.04 L218.78,490.04 L218.78,491.16 L220.28,491.16 L220.28,492.18 L221.79,492.18 L221.79,492.70 L223.30,492.70 L223.30,493.23 L224.81,493.23 L224.81,493.75 L226.31,493.75 L226.31,494.37 L227.82,494.37 L227.82,495.14 L229.33,495.14 L229.33,495.91 L230.84,495.91 L230.84,496.68 L232.34,496.68 L232.34,497.45 L233.85,497.45 L233.85,498.06 L235.36,498.06 L235.36,498.51 L236.87,498.51 L236.87,498.96 L238.37,498.96 L238.37,499.41 L239.88,499.41 L239.88,499.74 L241.39,499.74 L241.39,499.96 L242.90,499.96 L242.90,500.18 L244.40,500.18 L244.40,500.40 L245.91,500.40 L245.91,500.62 L247.42,500.62 L247.42,500.76 L248.93,500.76 L248.93,500.84 L250.43,500.84 L250.43,500.92 L251.94,500.92 L251.94,501.00 L253.45,501.00 L253.45,501.08 L254.96,501.08 L254.96,501.16 L256.46,501.16 L256.46,501.24 L257.97,501.24 L257.97,501.32 L259.48,501.32 L259.48,501.41 L260.99,501.41 L260.99,501.54 L262.49,501.54 L262.49,501.71 L264.00,501.71 L264.00,501.87 L265.51,501.87 L265.51,502.03 L267.01,502.03 L267.01,502.19 L268.52,502.19 L268.52,502.35 L270.03,502.35 L270.03,502.51 L271.54,502.51 L271.54,502.59 L273.04,502.59 L273.04,502.67 L274.55,502.67 L274.55,502.75 L276.06,502.75 L276.06,502.83 L277.57,502.83 L277.57,502.91 L279.07,502.91 L279.07,502.99 L280.58,502.99 L280.58,503.07 L282.09,503.07 L282.09,503.16 L283.60,503.16 L283.60,503.22 L285.10,503.22 L285.10,503.22 L286.61,503.22 L286.61,503.22 L288.12,503.22 L288.12,503.22 L289.63,503.22 L289.63,502.68 L291.13,502.68 L291.13,502.91 L292.64,502.91 L292.64,503.48 L294.15,503.48 L294.15,503.82 L295.66,503.82 L295.66,503.94 L297.16,503.94 L297.16,504.06 L298.67,504.06 L298.67,504.19 L300.18,504.19 L300.18,504.30 L301.69,504.30 L301.69,504.30 L303.19,504.30 L303.19,504.30 L304.70,504.30 L304.70,504.30 L306.21,504.30 L306.21,504.30 L307.72,504.30 L307.72,504.30 L309.22,504.30 L309.22,504.30 L310.73,504.30 L310.73,504.30 L312.24,504.30 L312.24,504.30 L313.75,504.30 L313.75,504.30 L315.25,504.30 L315.25,504.30 L316.76,504.30 L316.76,504.30 L317.60,504.30 L317.60,504.30 L83.10,504.30 Z" fill="#42a8fb"/>
<path d="M158.14,504.30 L159.65,496.57 L159.65,493.25 L161.16,493.25 L161.16,490.04 L162.66,490.04 L162.66,488.32 L164.17,488.32 L164.17,485.09 L165.68,485.09 L165.68,480.40 L167.19,480.40 L167.19,477.80 L168.69,477.80 L168.69,477.58 L170.20,477.58 L170.20,477.42 L171.71,477.42 L171.71,478.28 L173.22,478.28 L173.22,479.13 L174.72,479.13 L174.72,479.98 L176.23,479.98 L176.23,480.84 L177.74,480.84 L177.74,481.69 L179.25,481.69 L179.25,482.55 L180.75,482.55 L180.75,483.40 L182.26,483.40 L182.26,484.21 L183.77,484.21 L183.77,484.88 L185.28,484.88 L185.28,485.56 L186.78,485.56 L186.78,486.24 L188.29,486.24 L188.29,486.92 L189.80,486.92 L189.80,487.60 L191.31,487.60 L191.31,488.28 L192.81,488.28 L192.81,488.96 L194.32,488.96 L194.32,489.64 L195.83,489.64 L195.83,490.32 L197.34,490.32 L197.34,490.88 L198.84,490.88 L198.84,491.32 L200.35,491.32 L200.35,491.76 L201.86,491.76 L201.86,492.20 L203.37,492.20 L203.37,492.64 L204.87,492.64 L204.87,493.08 L206.38,493.08 L206.38,493.52 L207.89,493.52 L207.89,493.96 L209.40,493.96 L209.40,494.40 L210.90,494.40 L210.90,494.84 L212.41,494.84 L212.41,495.25 L213.92,495.25 L213.92,495.65 L215.43,495.65 L215.43,496.04 L216.93,496.04 L216.93,496.43 L218.44,496.43 L218.44,496.83 L219.95,496.83 L219.95,497.22 L221.46,497.22 L221.46,497.62 L222.96,497.62 L222.96,498.01 L224.47,498.01 L224.47,498.41 L225.98,498.41 L225.98,498.78 L227.49,498.78 L227.49,499.06 L228.99,499.06 L228.99,499.33 L230.50,499.33 L230.50,499.61 L232.01,499.61 L232.01,499.88 L233.52,499.88 L233.52,500.16 L235.02,500.16 L235.02,500.43 L236.53,500.43 L236.53,500.71 L238.04,500.71 L238.04,500.98 L239.55,500.98 L239.55,501.26 L241.05,501.26 L241.05,501.47 L242.56,501.47 L242.56,501.58 L244.07,501.58 L244.07,501.69 L245.58,501.69 L245.58,501.81 L247.08,501.81 L247.08,501.92 L248.59,501.92 L248.59,502.03 L250.10,502.03 L250.10,502.14 L251.61,502.14 L251.61,502.25 L253.11,502.25 L253.11,502.36 L254.62,502.36 L254.62,502.47 L256.13,502.47 L256.13,502.59 L257.63,502.59 L257.63,502.70 L259.14,502.70 L259.14,502.81 L260.65,502.81 L260.65,502.90 L262.16,502.90 L262.16,502.97 L263.66,502.97 L263.66,503.04 L265.17,503.04 L265.17,503.11 L266.68,503.11 L266.68,503.18 L268.19,503.18 L268.19,503.24 L269.69,503.24 L269.69,503.31 L271.20,503.31 L271.20,503.38 L272.71,503.38 L272.71,503.45 L274.22,503.45 L274.22,503.52 L275.72,503.52 L275.72,503.59 L277.23,503.59 L277.23,503.66 L278.74,503.66 L278.74,503.73 L280.25,503.73 L280.25,503.80 L281.75,503.80 L281.75,503.87 L283.26,503.87 L283.26,503.94 L284.77,503.94 L284.77,504.02 L286.28,504.02 L286.28,504.10 L287.78,504.10 L287.78,504.18 L289.29,504.18 L289.29,504.26 L290.80,504.30 L290.80,504.30 L158.14,504.30 Z" fill="url(#hatchB)"/>
<path d="M83.10,504.30 L84.61,504.30 L84.61,504.30 L86.11,504.30 L86.11,504.30 L87.62,504.30 L87.62,504.30 L89.13,504.30 L89.13,504.30 L90.64,504.30 L90.64,504.30 L92.14,504.30 L92.14,504.30 L93.65,504.30 L93.65,504.30 L95.16,504.30 L95.16,504.30 L96.67,504.30 L96.67,504.30 L98.17,504.30 L98.17,504.30 L99.68,504.30 L99.68,504.30 L101.19,504.30 L101.19,504.30 L102.70,504.30 L102.70,504.30 L104.20,504.30 L104.20,504.30 L105.71,504.30 L105.71,504.30 L107.22,504.30 L107.22,504.30 L108.73,504.30 L108.73,504.30 L110.23,504.30 L110.23,504.30 L111.74,504.30 L111.74,504.30 L113.25,504.30 L113.25,504.30 L114.76,504.30 L114.76,504.30 L116.27,504.30 L116.27,503.18 L117.77,503.18 L117.77,502.50 L119.28,502.50 L119.28,502.50 L120.79,502.50 L120.79,502.50 L122.30,502.50 L122.30,503.25 L123.80,503.25 L123.80,504.30 L125.31,504.30 L125.31,501.54 L126.82,501.54 L126.82,497.01 L128.33,497.01 L128.33,490.47 L129.83,490.47 L129.83,483.80 L131.34,483.80 L131.34,477.14 L132.85,477.14 L132.85,471.34 L134.36,471.34 L134.36,466.90 L135.86,466.90 L135.86,460.23 L137.37,460.23 L137.37,452.16 L138.88,452.16 L138.88,448.12 L140.39,448.12 L140.39,445.78 L141.89,445.78 L141.89,446.10 L143.40,446.10 L143.40,447.98 L144.91,447.98 L144.91,449.96 L146.42,449.96 L146.42,452.38 L147.92,452.38 L147.92,454.80 L149.43,454.80 L149.43,457.36 L150.94,457.36 L150.94,460.05 L152.45,460.05 L152.45,462.75 L153.95,462.75 L153.95,464.98 L155.46,464.98 L155.46,467.11 L156.97,467.11 L156.97,469.25 L158.48,469.25 L158.48,470.99 L159.98,470.99 L159.98,472.11 L161.49,472.11 L161.49,473.22 L163.00,473.22 L163.00,474.34 L164.51,474.34 L164.51,474.81 L166.01,474.81 L166.01,475.16 L167.52,475.16 L167.52,475.52 L169.03,475.52 L169.03,473.64 L170.54,473.64 L170.54,471.30 L172.04,471.30 L172.04,465.38 L173.55,465.38 L173.55,458.74 L175.06,458.74 L175.06,456.96 L176.57,456.96 L176.57,456.15 L178.07,456.15 L178.07,455.34 L179.58,455.34 L179.58,455.71 L181.09,455.71 L181.09,456.15 L182.60,456.15 L182.60,456.58 L184.10,456.58 L184.10,457.02 L185.61,457.02 L185.61,457.46 L187.12,457.46 L187.12,458.73 L188.63,458.73 L188.63,460.53 L190.13,460.53 L190.13,462.33 L191.64,462.33 L191.64,464.13 L193.15,464.13 L193.15,465.93 L194.66,465.93 L194.66,467.20 L196.16,467.20 L196.16,468.28 L197.67,468.28 L197.67,469.36 L199.18,469.36 L199.18,470.43 L200.69,470.43 L200.69,472.14 L202.19,472.14 L202.19,474.09 L203.70,474.09 L203.70,476.04 L205.21,476.04 L205.21,477.98 L206.72,477.98 L206.72,479.45 L208.22,479.45 L208.22,480.89 L209.73,480.89 L209.73,482.32 L211.24,482.32 L211.24,483.76 L212.75,483.76 L212.75,485.84 L214.25,485.84 L214.25,487.79 L215.76,487.79 L215.76,488.92 L217.27,488.92 L217.27,490.04 L218.78,490.04 L218.78,491.16 L220.28,491.16 L220.28,492.18 L221.79,492.18 L221.79,492.70 L223.30,492.70 L223.30,493.23 L224.81,493.23 L224.81,493.75 L226.31,493.75 L226.31,494.37 L227.82,494.37 L227.82,495.14 L229.33,495.14 L229.33,495.91 L230.84,495.91 L230.84,496.68 L232.34,496.68 L232.34,497.45 L233.85,497.45 L233.85,498.06 L235.36,498.06 L235.36,498.51 L236.87,498.51 L236.87,498.96 L238.37,498.96 L238.37,499.41 L239.88,499.41 L239.88,499.74 L241.39,499.74 L241.39,499.96 L242.90,499.96 L242.90,500.18 L244.40,500.18 L244.40,500.40 L245.91,500.40 L245.91,500.62 L247.42,500.62 L247.42,500.76 L248.93,500.76 L248.93,500.84 L250.43,500.84 L250.43,500.92 L251.94,500.92 L251.94,501.00 L253.45,501.00 L253.45,501.08 L254.96,501.08 L254.96,501.16 L256.46,501.16 L256.46,501.24 L257.97,501.24 L257.97,501.32 L259.48,501.32 L259.48,501.41 L260.99,501.41 L260.99,501.54 L262.49,501.54 L262.49,501.71 L264.00,501.71 L264.00,501.87 L265.51,501.87 L265.51,502.03 L267.01,502.03 L267.01,502.19 L268.52,502.19 L268.52,502.35 L270.03,502.35 L270.03,502.51 L271.54,502.51 L271.54,502.59 L273.04,502.59 L273.04,502.67 L274.55,502.67 L274.55,502.75 L276.06,502.75 L276.06,502.83 L277.57,502.83 L277.57,502.91 L279.07,502.91 L279.07,502.99 L280.58,502.99 L280.58,503.07 L282.09,503.07 L282.09,503.16 L283.60,503.16 L283.60,503.22 L285.10,503.22 L285.10,503.22 L286.61,503.22 L286.61,503.22 L288.12,503.22 L288.12,503.22 L289.63,503.22 L289.63,502.68 L291.13,502.68 L291.13,502.91 L292.64,502.91 L292.64,503.48 L294.15,503.48 L294.15,503.82 L295.66,503.82 L295.66,503.94 L297.16,503.94 L297.16,504.06 L298.67,504.06 L298.67,504.19 L300.18,504.19 L300.18,504.30 L301.69,504.30 L301.69,504.30 L303.19,504.30 L303.19,504.30 L304.70,504.30 L304.70,504.30 L306.21,504.30 L306.21,504.30 L307.72,504.30 L307.72,504.30 L309.22,504.30 L309.22,504.30 L310.73,504.30 L310.73,504.30 L312.24,504.30 L312.24,504.30 L313.75,504.30 L313.75,504.30 L315.25,504.30 L315.25,504.30 L316.76,504.30 L316.76,504.30 L317.60,504.30" fill="none" stroke="#1e96f0" stroke-width="2" stroke-linejoin="round"/>
<line x1="83.1" y1="432.5" x2="317.9" y2="432.5" stroke="#111" stroke-width="2.6"/>
<rect x="83.1" y="345.3" width="234.80" height="173.60" fill="none" stroke="#111" stroke-width="1.6"/>
<line x1="79.10" y1="345.30" x2="83.1" y2="345.30" stroke="#111" stroke-width="1.4"/>
<text x="75.80" y="349.80" font-size="14.6" text-anchor="end" font-weight="normal" font-style="normal" fill="#1a1a1a" stroke="#1a1a1a" stroke-width="0.35" textLength="14.61" lengthAdjust="spacingAndGlyphs">40</text>
<line x1="79.10" y1="432.50" x2="83.1" y2="432.50" stroke="#111" stroke-width="1.4"/>
<text x="75.80" y="437.00" font-size="14.6" text-anchor="end" font-weight="normal" font-style="normal" fill="#1a1a1a" stroke="#1a1a1a" stroke-width="0.35" textLength="14.61" lengthAdjust="spacingAndGlyphs">40</text>
<line x1="79.10" y1="363.43" x2="83.1" y2="363.43" stroke="#111" stroke-width="1.4"/>
<text x="75.80" y="367.93" font-size="14.6" text-anchor="end" font-weight="normal" font-style="normal" fill="#1a1a1a" stroke="#1a1a1a" stroke-width="0.35" textLength="14.61" lengthAdjust="spacingAndGlyphs">30</text>
<line x1="79.10" y1="450.45" x2="83.1" y2="450.45" stroke="#111" stroke-width="1.4"/>
<text x="75.80" y="454.95" font-size="14.6" text-anchor="end" font-weight="normal" font-style="normal" fill="#1a1a1a" stroke="#1a1a1a" stroke-width="0.35" textLength="14.61" lengthAdjust="spacingAndGlyphs">30</text>
<line x1="79.10" y1="381.55" x2="83.1" y2="381.55" stroke="#111" stroke-width="1.4"/>
<text x="75.80" y="386.05" font-size="14.6" text-anchor="end" font-weight="normal" font-style="normal" fill="#1a1a1a" stroke="#1a1a1a" stroke-width="0.35" textLength="14.61" lengthAdjust="spacingAndGlyphs">20</text>
<line x1="79.10" y1="468.40" x2="83.1" y2="468.40" stroke="#111" stroke-width="1.4"/>
<text x="75.80" y="472.90" font-size="14.6" text-anchor="end" font-weight="normal" font-style="normal" fill="#1a1a1a" stroke="#1a1a1a" stroke-width="0.35" textLength="14.61" lengthAdjust="spacingAndGlyphs">20</text>
<line x1="79.10" y1="399.68" x2="83.1" y2="399.68" stroke="#111" stroke-width="1.4"/>
<text x="75.80" y="404.18" font-size="14.6" text-anchor="end" font-weight="normal" font-style="normal" fill="#1a1a1a" stroke="#1a1a1a" stroke-width="0.35" textLength="14.61" lengthAdjust="spacingAndGlyphs">10</text>
<line x1="79.10" y1="486.35" x2="83.1" y2="486.35" stroke="#111" stroke-width="1.4"/>
<text x="75.80" y="490.85" font-size="14.6" text-anchor="end" font-weight="normal" font-style="normal" fill="#1a1a1a" stroke="#1a1a1a" stroke-width="0.35" textLength="14.61" lengthAdjust="spacingAndGlyphs">10</text>
<line x1="79.10" y1="417.80" x2="83.1" y2="417.80" stroke="#111" stroke-width="1.4"/>
<text x="75.80" y="422.30" font-size="14.6" text-anchor="end" font-weight="normal" font-style="normal" fill="#1a1a1a" stroke="#1a1a1a" stroke-width="0.35" textLength="7.31" lengthAdjust="spacingAndGlyphs">0</text>
<line x1="79.10" y1="504.30" x2="83.1" y2="504.30" stroke="#111" stroke-width="1.4"/>
<text x="75.80" y="508.80" font-size="14.6" text-anchor="end" font-weight="normal" font-style="normal" fill="#1a1a1a" stroke="#1a1a1a" stroke-width="0.35" textLength="7.31" lengthAdjust="spacingAndGlyphs">0</text>
<line x1="83.10" y1="518.9" x2="83.10" y2="522.6999999999999" stroke="#111" stroke-width="1.4"/>
<text x="83.10" y="536.00" font-size="14.6" text-anchor="middle" font-weight="normal" font-style="normal" fill="#1a1a1a" stroke="#1a1a1a" stroke-width="0.35" textLength="18.26" lengthAdjust="spacingAndGlyphs">0.0</text>
<line x1="116.60" y1="518.9" x2="116.60" y2="522.6999999999999" stroke="#111" stroke-width="1.4"/>
<text x="116.60" y="536.00" font-size="14.6" text-anchor="middle" font-weight="normal" font-style="normal" fill="#1a1a1a" stroke="#1a1a1a" stroke-width="0.35" textLength="18.26" lengthAdjust="spacingAndGlyphs">0.1</text>
<line x1="150.10" y1="518.9" x2="150.10" y2="522.6999999999999" stroke="#111" stroke-width="1.4"/>
<text x="150.10" y="536.00" font-size="14.6" text-anchor="middle" font-weight="normal" font-style="normal" fill="#1a1a1a" stroke="#1a1a1a" stroke-width="0.35" textLength="18.26" lengthAdjust="spacingAndGlyphs">0.2</text>
<line x1="183.60" y1="518.9" x2="183.60" y2="522.6999999999999" stroke="#111" stroke-width="1.4"/>
<text x="183.60" y="536.00" font-size="14.6" text-anchor="middle" font-weight="normal" font-style="normal" fill="#1a1a1a" stroke="#1a1a1a" stroke-width="0.35" textLength="18.26" lengthAdjust="spacingAndGlyphs">0.3</text>
<line x1="217.10" y1="518.9" x2="217.10" y2="522.6999999999999" stroke="#111" stroke-width="1.4"/>
<text x="217.10" y="536.00" font-size="14.6" text-anchor="middle" font-weight="normal" font-style="normal" fill="#1a1a1a" stroke="#1a1a1a" stroke-width="0.35" textLength="18.26" lengthAdjust="spacingAndGlyphs">0.4</text>
<line x1="250.60" y1="518.9" x2="250.60" y2="522.6999999999999" stroke="#111" stroke-width="1.4"/>
<text x="250.60" y="536.00" font-size="14.6" text-anchor="middle" font-weight="normal" font-style="normal" fill="#1a1a1a" stroke="#1a1a1a" stroke-width="0.35" textLength="18.26" lengthAdjust="spacingAndGlyphs">0.5</text>
<line x1="284.10" y1="518.9" x2="284.10" y2="522.6999999999999" stroke="#111" stroke-width="1.4"/>
<text x="284.10" y="536.00" font-size="14.6" text-anchor="middle" font-weight="normal" font-style="normal" fill="#1a1a1a" stroke="#1a1a1a" stroke-width="0.35" textLength="18.26" lengthAdjust="spacingAndGlyphs">0.6</text>
<line x1="317.60" y1="518.9" x2="317.60" y2="522.6999999999999" stroke="#111" stroke-width="1.4"/>
<text x="317.60" y="536.00" font-size="14.6" text-anchor="middle" font-weight="normal" font-style="normal" fill="#1a1a1a" stroke="#1a1a1a" stroke-width="0.35" textLength="18.26" lengthAdjust="spacingAndGlyphs">0.7</text>
<text x="200.75" y="559.00" font-size="18.5" text-anchor="middle" font-weight="normal" font-style="normal" fill="#1a1a1a" stroke="#1a1a1a" stroke-width="0.3" textLength="83.5" lengthAdjust="spacingAndGlyphs">Time (ms)</text>
<g transform="translate(51.3,433.1) rotate(-90)"><text x="0" y="0" font-size="18.5" text-anchor="middle" fill="#1a1a1a" stroke="#1a1a1a" stroke-width="0.3"><tspan font-style="italic">I</tspan><tspan font-size="12.3" dy="3.6" font-style="italic">O</tspan><tspan dy="-3.6"> (μA)</tspan></text></g>
<rect x="438.9" y="344.3" width="224.10" height="176.70" fill="none" stroke="#111" stroke-width="1.8"/>
<line x1="434.90" y1="511.20" x2="438.9" y2="511.20" stroke="#111" stroke-width="1.4"/>
<text x="432.40" y="515.10" font-size="14.6" text-anchor="end" font-weight="normal" font-style="normal" fill="#1a1a1a" stroke="#1a1a1a" stroke-width="0.35" textLength="7.31" lengthAdjust="spacingAndGlyphs">0</text>
<line x1="434.90" y1="469.48" x2="438.9" y2="469.48" stroke="#111" stroke-width="1.4"/>
<text x="432.40" y="473.38" font-size="14.6" text-anchor="end" font-weight="normal" font-style="normal" fill="#1a1a1a" stroke="#1a1a1a" stroke-width="0.35" textLength="7.31" lengthAdjust="spacingAndGlyphs">4</text>
<line x1="434.90" y1="427.76" x2="438.9" y2="427.76" stroke="#111" stroke-width="1.4"/>
<text x="432.40" y="431.66" font-size="14.6" text-anchor="end" font-weight="normal" font-style="normal" fill="#1a1a1a" stroke="#1a1a1a" stroke-width="0.35" textLength="7.31" lengthAdjust="spacingAndGlyphs">8</text>
<line x1="434.90" y1="386.04" x2="438.9" y2="386.04" stroke="#111" stroke-width="1.4"/>
<text x="432.40" y="389.94" font-size="14.6" text-anchor="end" font-weight="normal" font-style="normal" fill="#1a1a1a" stroke="#1a1a1a" stroke-width="0.35" textLength="14.61" lengthAdjust="spacingAndGlyphs">12</text>
<line x1="434.90" y1="344.32" x2="438.9" y2="344.32" stroke="#111" stroke-width="1.4"/>
<text x="432.40" y="348.22" font-size="14.6" text-anchor="end" font-weight="normal" font-style="normal" fill="#1a1a1a" stroke="#1a1a1a" stroke-width="0.35" textLength="14.61" lengthAdjust="spacingAndGlyphs">16</text>
<line x1="451.00" y1="521.0" x2="451.00" y2="524.8" stroke="#111" stroke-width="1.4"/>
<text x="451.00" y="538.20" font-size="14.6" text-anchor="middle" font-weight="normal" font-style="normal" fill="#1a1a1a" stroke="#1a1a1a" stroke-width="0.35" textLength="18.26" lengthAdjust="spacingAndGlyphs">0.0</text>
<line x1="474.50" y1="521.0" x2="474.50" y2="524.8" stroke="#111" stroke-width="1.4"/>
<text x="474.50" y="538.20" font-size="14.6" text-anchor="middle" font-weight="normal" font-style="normal" fill="#1a1a1a" stroke="#1a1a1a" stroke-width="0.35" textLength="18.26" lengthAdjust="spacingAndGlyphs">0.2</text>
<line x1="498.00" y1="521.0" x2="498.00" y2="524.8" stroke="#111" stroke-width="1.4"/>
<text x="498.00" y="538.20" font-size="14.6" text-anchor="middle" font-weight="normal" font-style="normal" fill="#1a1a1a" stroke="#1a1a1a" stroke-width="0.35" textLength="18.26" lengthAdjust="spacingAndGlyphs">0.4</text>
<line x1="521.50" y1="521.0" x2="521.50" y2="524.8" stroke="#111" stroke-width="1.4"/>
<text x="521.50" y="538.20" font-size="14.6" text-anchor="middle" font-weight="normal" font-style="normal" fill="#1a1a1a" stroke="#1a1a1a" stroke-width="0.35" textLength="18.26" lengthAdjust="spacingAndGlyphs">0.6</text>
<line x1="545.00" y1="521.0" x2="545.00" y2="524.8" stroke="#111" stroke-width="1.4"/>
<text x="545.00" y="538.20" font-size="14.6" text-anchor="middle" font-weight="normal" font-style="normal" fill="#1a1a1a" stroke="#1a1a1a" stroke-width="0.35" textLength="18.26" lengthAdjust="spacingAndGlyphs">0.8</text>
<line x1="568.50" y1="521.0" x2="568.50" y2="524.8" stroke="#111" stroke-width="1.4"/>
<text x="568.50" y="538.20" font-size="14.6" text-anchor="middle" font-weight="normal" font-style="normal" fill="#1a1a1a" stroke="#1a1a1a" stroke-width="0.35" textLength="18.26" lengthAdjust="spacingAndGlyphs">1.0</text>
<line x1="592.00" y1="521.0" x2="592.00" y2="524.8" stroke="#111" stroke-width="1.4"/>
<text x="592.00" y="538.20" font-size="14.6" text-anchor="middle" font-weight="normal" font-style="normal" fill="#1a1a1a" stroke="#1a1a1a" stroke-width="0.35" textLength="18.26" lengthAdjust="spacingAndGlyphs">1.2</text>
<line x1="615.50" y1="521.0" x2="615.50" y2="524.8" stroke="#111" stroke-width="1.4"/>
<text x="615.50" y="538.20" font-size="14.6" text-anchor="middle" font-weight="normal" font-style="normal" fill="#1a1a1a" stroke="#1a1a1a" stroke-width="0.35" textLength="18.26" lengthAdjust="spacingAndGlyphs">1.4</text>
<line x1="639.00" y1="521.0" x2="639.00" y2="524.8" stroke="#111" stroke-width="1.4"/>
<text x="639.00" y="538.20" font-size="14.6" text-anchor="middle" font-weight="normal" font-style="normal" fill="#1a1a1a" stroke="#1a1a1a" stroke-width="0.35" textLength="18.26" lengthAdjust="spacingAndGlyphs">1.6</text>
<line x1="662.50" y1="521.0" x2="662.50" y2="524.8" stroke="#111" stroke-width="1.4"/>
<text x="662.50" y="538.20" font-size="14.6" text-anchor="middle" font-weight="normal" font-style="normal" fill="#1a1a1a" stroke="#1a1a1a" stroke-width="0.35" textLength="18.26" lengthAdjust="spacingAndGlyphs">1.8</text>
<path d="M451.00,511.20 L462.63,511.20 L462.75,500.77 L462.99,500.77 L463.22,476.78 L492.95,476.78 L493.18,511.20 L493.53,513.29 L494.00,511.20 L533.25,511.20" fill="none" stroke="#888" stroke-width="2"/>
<path d="M568.50,511.20 L583.19,511.20 L583.42,349.53 L639.59,349.53 L639.82,511.20 L640.41,511.20 L640.64,502.86 L641.35,502.86 L641.59,511.20 L650.75,511.20" fill="none" stroke="#1aa3ef" stroke-width="2"/>
<text x="552.50" y="566.30" font-size="18.7" text-anchor="middle" font-weight="normal" font-style="normal" fill="#1a1a1a" stroke="#1a1a1a" stroke-width="0.3" textLength="84" lengthAdjust="spacingAndGlyphs">Time (ms)</text>
<line x1="445.3" y1="354.9" x2="464.3" y2="354.9" stroke="#4a4a4a" stroke-width="2.6"/>
<text x="469.60" y="360.10" font-size="11.5" text-anchor="start" font-weight="bold" font-style="normal" fill="#444"  textLength="49" lengthAdjust="spacingAndGlyphs">FIn-DEG</text>
<line x1="445.3" y1="370.2" x2="464.3" y2="370.2" stroke="#12a8f2" stroke-width="2.6"/>
<text x="469.60" y="375.90" font-size="11.5" text-anchor="start" font-weight="bold" font-style="normal" fill="#12a8f2"  textLength="53" lengthAdjust="spacingAndGlyphs">WIn-DEG</text>
<g transform="translate(407.5,431.7) rotate(-90)"><text x="0" y="0" font-size="19.2" text-anchor="middle" fill="#1a1a1a" stroke="#1a1a1a" stroke-width="0.3"><tspan font-style="italic">I</tspan><tspan font-size="12" dy="3.9" font-style="italic">RMS</tspan><tspan dy="-3.9"> (μA)</tspan></text></g>
</svg>
</body></html>
